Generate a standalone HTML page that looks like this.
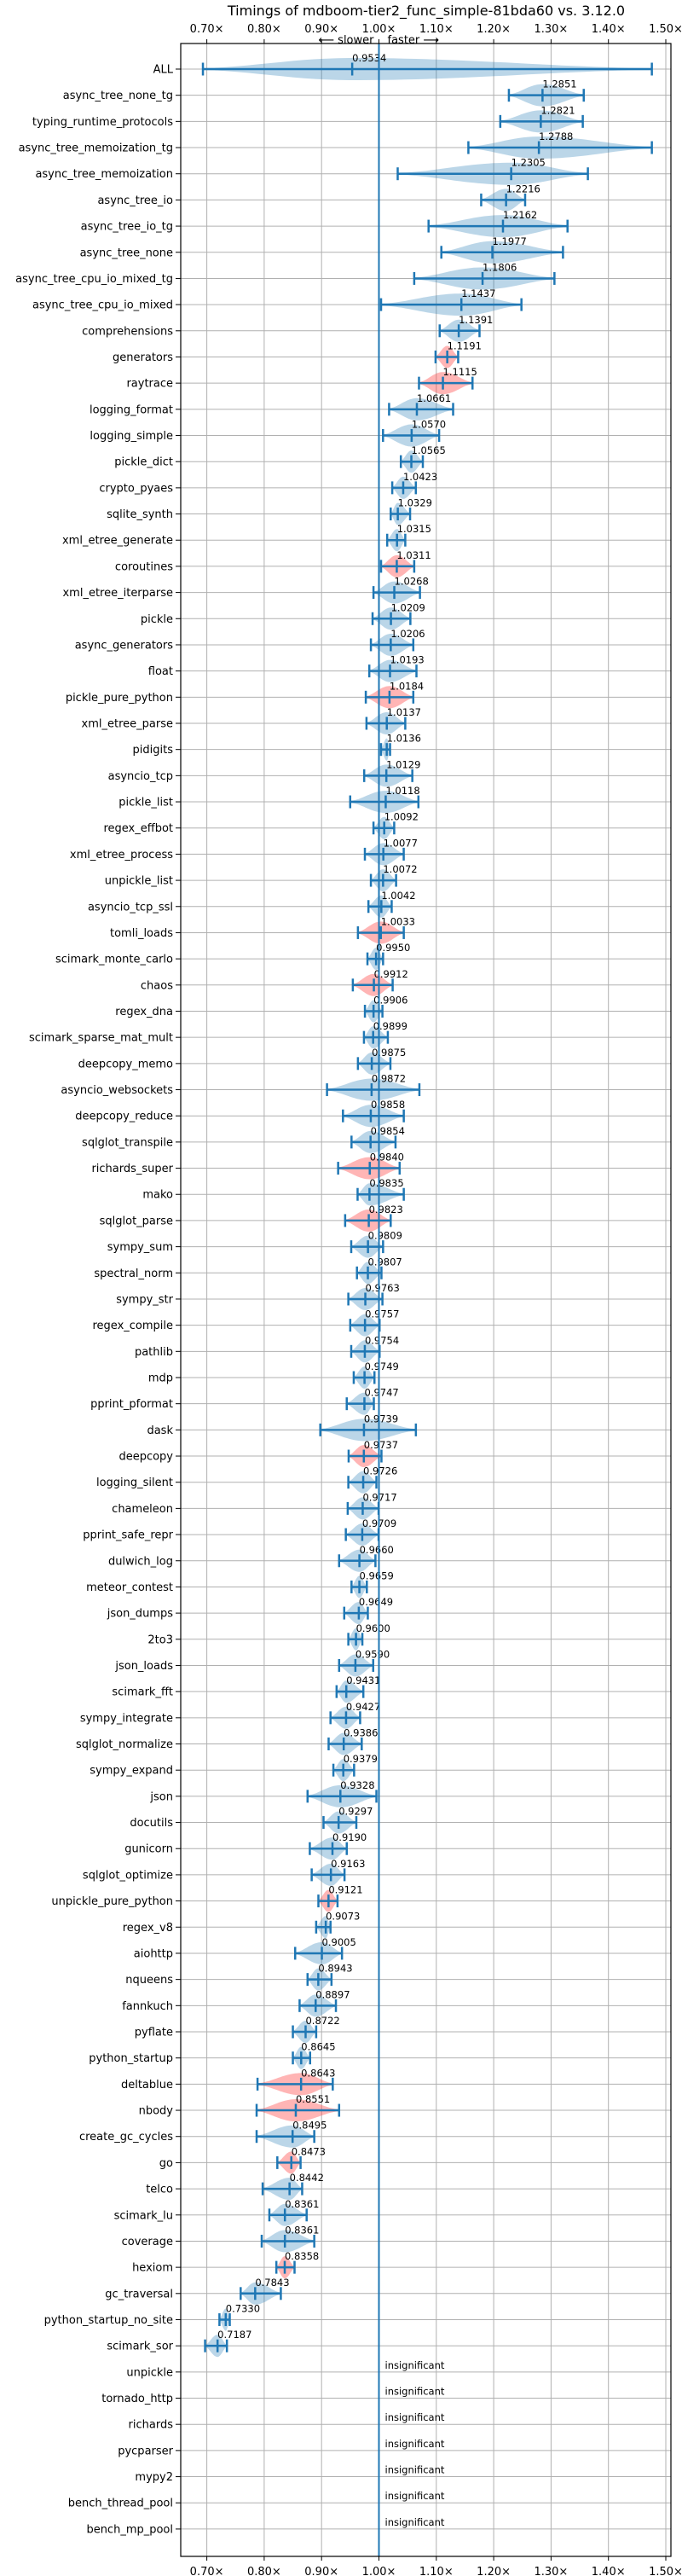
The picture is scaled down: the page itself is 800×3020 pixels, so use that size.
<!DOCTYPE html>
<html><head><meta charset="utf-8">
<style>
html,body{margin:0;padding:0;background:#fff;}
svg{display:block;font-family:"DejaVu Sans","Liberation Sans",sans-serif;}
</style></head>
<body>
<svg id="chart" width="800" height="3020" viewBox="0 0 800 3020" xmlns="http://www.w3.org/2000/svg">
<text x="500" y="18" font-size="16" text-anchor="middle" fill="#000">Timings of mdboom-tier2_func_simple-81bda60 vs. 3.12.0</text>
<g id="grid"></g>
<g id="marks"></g>
<g id="axes"></g>
</svg>
<script>
const names=["ALL","async_tree_none_tg","typing_runtime_protocols","async_tree_memoization_tg","async_tree_memoization","async_tree_io","async_tree_io_tg","async_tree_none","async_tree_cpu_io_mixed_tg","async_tree_cpu_io_mixed","comprehensions","generators","raytrace","logging_format","logging_simple","pickle_dict","crypto_pyaes","sqlite_synth","xml_etree_generate","coroutines","xml_etree_iterparse","pickle","async_generators","float","pickle_pure_python","xml_etree_parse","pidigits","asyncio_tcp","pickle_list","regex_effbot","xml_etree_process","unpickle_list","asyncio_tcp_ssl","tomli_loads","scimark_monte_carlo","chaos","regex_dna","scimark_sparse_mat_mult","deepcopy_memo","asyncio_websockets","deepcopy_reduce","sqlglot_transpile","richards_super","mako","sqlglot_parse","sympy_sum","spectral_norm","sympy_str","regex_compile","pathlib","mdp","pprint_pformat","dask","deepcopy","logging_silent","chameleon","pprint_safe_repr","dulwich_log","meteor_contest","json_dumps","2to3","json_loads","scimark_fft","sympy_integrate","sqlglot_normalize","sympy_expand","json","docutils","gunicorn","sqlglot_optimize","unpickle_pure_python","regex_v8","aiohttp","nqueens","fannkuch","pyflate","python_startup","deltablue","nbody","create_gc_cycles","go","telco","scimark_lu","coverage","hexiom","gc_traversal","python_startup_no_site","scimark_sor","unpickle","tornado_http","richards","pycparser","mypy2","bench_thread_pool","bench_mp_pool"];
const medians=[0.9534,1.2851,1.2821,1.2788,1.2305,1.2216,1.2162,1.1977,1.1806,1.1437,1.1391,1.1191,1.1115,1.0661,1.0570,1.0565,1.0423,1.0329,1.0315,1.0311,1.0268,1.0209,1.0206,1.0193,1.0184,1.0137,1.0136,1.0129,1.0118,1.0092,1.0077,1.0072,1.0042,1.0033,0.9950,0.9912,0.9906,0.9899,0.9875,0.9872,0.9858,0.9854,0.9840,0.9835,0.9823,0.9809,0.9807,0.9763,0.9757,0.9754,0.9749,0.9747,0.9739,0.9737,0.9726,0.9717,0.9709,0.9660,0.9659,0.9649,0.9600,0.9590,0.9431,0.9427,0.9386,0.9379,0.9328,0.9297,0.9190,0.9163,0.9121,0.9073,0.9005,0.8943,0.8897,0.8722,0.8645,0.8643,0.8551,0.8495,0.8473,0.8442,0.8361,0.8361,0.8358,0.7843,0.7330,0.7187,null,null,null,null,null,null,null];
const mins=[0.6932,1.2265,1.2115,1.1559,1.0327,1.1782,1.0865,1.1088,1.0615,1.0037,1.1059,1.0987,1.0698,1.0177,1.0071,1.0382,1.0232,1.0205,1.0144,1.0037,0.9905,0.9889,0.9860,0.9832,0.9771,0.9783,1.0037,0.9743,0.9499,0.9905,0.9755,0.9860,0.9817,0.9634,0.9800,0.9545,0.9756,0.9739,0.9634,0.9095,0.9373,0.9522,0.9289,0.9628,0.9411,0.9517,0.9617,0.9467,0.9500,0.9517,0.9561,0.9439,0.8978,0.9472,0.9467,0.9456,0.9423,0.9306,0.9522,0.9395,0.9467,0.9306,0.9262,0.9156,0.9123,0.9206,0.8756,0.9034,0.8795,0.8828,0.8945,0.8906,0.8540,0.8756,0.8617,0.8500,0.8500,0.7884,0.7868,0.7868,0.8229,0.7973,0.8090,0.7957,0.8212,0.7590,0.7220,0.6970];
const maxs=[1.4757,1.3570,1.3553,1.4757,1.3642,1.2548,1.3287,1.3208,1.3059,1.2484,1.1753,1.1381,1.1631,1.1293,1.1049,1.0765,1.0643,1.0543,1.0459,1.0615,1.0715,1.0548,1.0599,1.0654,1.0599,1.0459,1.0194,1.0582,1.0688,1.0266,1.0432,1.0299,1.0222,1.0433,1.0072,1.0239,1.0061,1.0155,1.0200,1.0705,1.0433,1.0289,1.0361,1.0433,1.0205,1.0072,1.0044,1.0061,1.0011,1.0011,0.9922,0.9911,1.0644,1.0044,0.9956,0.9994,0.9994,0.9939,0.9789,0.9806,0.9711,0.9900,0.9728,0.9672,0.9700,0.9567,0.9956,0.9606,0.9439,0.9400,0.9278,0.9156,0.9356,0.9173,0.9250,0.8906,0.8800,0.9195,0.9306,0.8873,0.8634,0.8662,0.8740,0.8873,0.8529,0.8290,0.7400,0.7350];
const slowerRows=[11,12,19,24,33,35,42,44,53,70,77,78,80,84];
const xTicks=[0.7,0.8,0.9,1.0,1.1,1.2,1.3,1.4,1.5];

const NS="http://www.w3.org/2000/svg";
const L=212,R=787,T=51,B=2997,ROW0=81,ROWH=30.68;
const xs=v=>444.5+(v-1)*673;
const ys=i=>ROW0+i*ROWH;
const grid=document.getElementById('grid'),marks=document.getElementById('marks'),axes=document.getElementById('axes');
function mk(tag,attrs,parent){const e=document.createElementNS(NS,tag);for(const k in attrs)e.setAttribute(k,attrs[k]);parent.appendChild(e);return e;}

// grid
xTicks.forEach(t=>{
  const g=mk('line',{x1:xs(t),x2:xs(t),y1:T,y2:B,stroke:'#b0b0b0','stroke-width':1},grid);
  
  
  const tt=mk('line',{x1:xs(t),x2:xs(t),y1:T-5,y2:T,stroke:'#000','stroke-width':1},axes);
  
  
  const tb=mk('line',{x1:xs(t),x2:xs(t),y1:B,y2:B+5,stroke:'#000','stroke-width':1},axes);
  
  
  const lt=mk('text',{x:xs(t),y:38,'font-size':13,'text-anchor':'middle',fill:'#000'},axes);
  lt.textContent=t.toFixed(2)+'×';
  
  
  const lb=mk('text',{x:xs(t),y:3019,'font-size':13,'text-anchor':'middle',fill:'#000'},axes);
  lb.textContent=t.toFixed(2)+'×';
  
  
});
names.forEach((n,i)=>{
  const y=ys(i);
  const g=mk('line',{x1:L,x2:R,y1:y,y2:y,stroke:'#b0b0b0','stroke-width':1},grid);
  
  
  const tk=mk('line',{x1:L-6,x2:L,y1:y,y2:y,stroke:'#000','stroke-width':1},axes);
  
  
  const lab=mk('text',{x:L-9,y:y+4.5,'font-size':13,'text-anchor':'end',fill:'#000'},axes);
  lab.textContent=n;
  
  
});

// violins
const H=13,blue='#1f77b4';
names.forEach((n,i)=>{
  const y=ys(i),med=medians[i];
  if(med===null){
    const t=mk('line',{x1:xs(1),x2:xs(1),y1:y-7,y2:y+7,stroke:blue,'stroke-width':2},marks);
    
    
    const tx=mk('text',{x:xs(1)+7,y:y-4,'font-size':11.5,fill:'#000'},marks);
    tx.textContent='insignificant';
    
    
    return;
  }
  const lo=mins[i],hi=maxs[i];
  const red=slowerRows.includes(i);
  const pts=[],N=40;
  for(let k=0;k<=N;k++){
    const v=lo+(hi-lo)*k/N;
    const u=v<med?(med-v)/Math.max(med-lo,1e-6):(v-med)/Math.max(hi-med,1e-6);
    const h=H*(0.1+0.9*Math.pow(Math.max(0,1-u*u),2));
    pts.push([xs(v),h]);
  }
  let d='M'+pts.map(p=>p[0].toFixed(1)+','+(y-p[1]).toFixed(1)).join('L');
  d+='L'+pts.slice().reverse().map(p=>p[0].toFixed(1)+','+(y+p[1]).toFixed(1)).join('L')+'Z';
  const vp=mk('path',{d:d,fill:red?'rgba(255,60,60,0.38)':'rgba(31,119,180,0.3)',stroke:'none'},marks);
  
  
  const hl=mk('line',{x1:xs(lo),x2:xs(hi),y1:y,y2:y,stroke:blue,'stroke-width':2.5},marks);
  
  
  [lo,med,hi].forEach(v=>{
    const c=mk('line',{x1:xs(v),x2:xs(v),y1:y-7.5,y2:y+7.5,stroke:blue,'stroke-width':2.5},marks);
    
    
  });
  const tx=mk('text',{x:xs(med),y:y-9,'font-size':11.5,fill:'#000'},marks);
  tx.textContent=med.toFixed(4);
  
  
});

// reference line at 1.00
const ref=mk('line',{x1:xs(1),x2:xs(1),y1:T,y2:B,stroke:blue,'stroke-width':2},marks);



// frame
const fr=mk('rect',{x:L,y:T,width:R-L,height:B-T,fill:'none',stroke:'#000','stroke-width':1.2},axes);


const sl=mk('text',{x:xs(1)-6,y:51,'font-size':13,'text-anchor':'end',fill:'#000'},axes);
sl.textContent='⟵ slower';


const fa=mk('text',{x:xs(1)+10,y:51,'font-size':13,fill:'#000'},axes);
fa.textContent='faster ⟶';


</script>
</body></html>
